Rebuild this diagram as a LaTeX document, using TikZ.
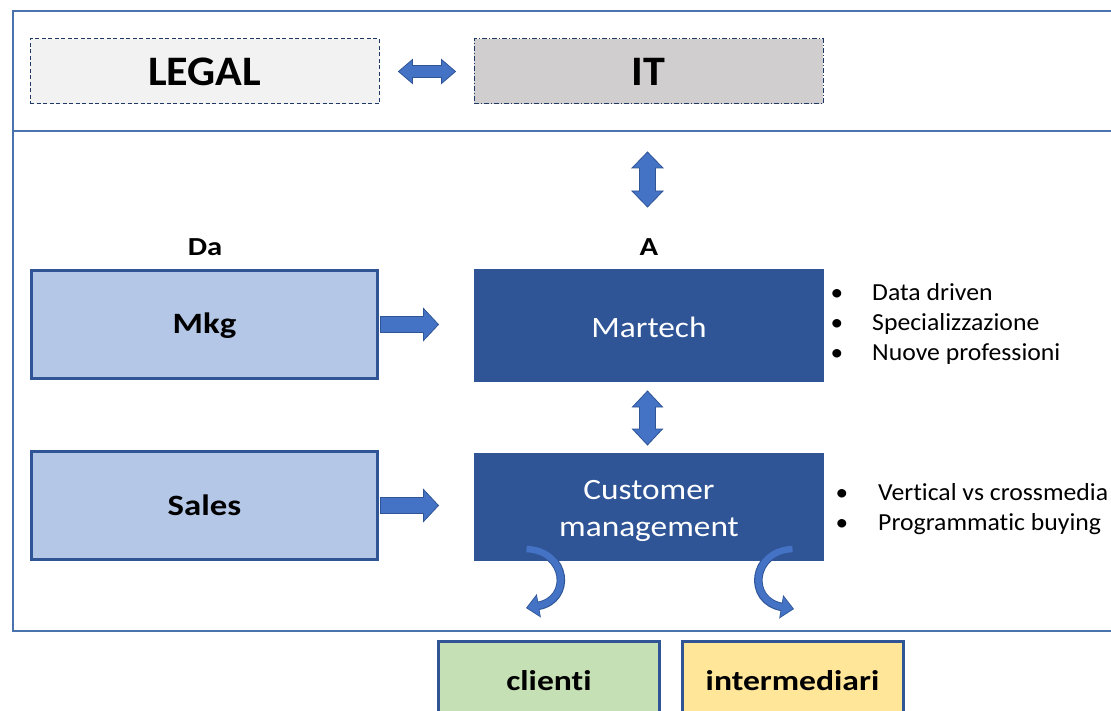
\documentclass[tikz,border=0pt]{standalone}
\usepackage{fontspec}
\setmainfont{Carlito}[FakeStretch=1.05, Ligatures=NoCommon]
\newfontfamily\widebold{Carlito}[FakeStretch=1.18, Ligatures=NoCommon]
\newfontfamily\widereg{Carlito}[FakeStretch=1.13, Ligatures=NoCommon]
\usetikzlibrary{arrows.meta,calc}
\definecolor{frameblue}{HTML}{4A73AE}
\definecolor{darkblue}{HTML}{2F5597}
\definecolor{lightblue}{HTML}{B4C7E7}
\definecolor{arrowblue}{HTML}{4472C4}
\definecolor{navy}{HTML}{1F3864}
\definecolor{legalfill}{HTML}{F2F2F2}
\definecolor{itfill}{HTML}{D0CECE}
\definecolor{greenfill}{HTML}{C5E0B4}
\definecolor{yellowfill}{HTML}{FFE699}
\tikzset{
  frameline/.style={draw=frameblue, line width=2.5pt},
  topbox/.style={minimum width=349pt, minimum height=65pt, inner sep=0pt, line width=1pt, draw=navy, font=\bfseries\fontsize{42}{46}\selectfont},
  lightbox/.style={draw=darkblue, line width=3pt, fill=lightblue, minimum width=346pt, minimum height=108pt, inner sep=0pt, text height=19pt, text depth=0pt, font=\widebold\bfseries\fontsize{29.5}{34}\selectfont},
  darkbox/.style={draw=darkblue, fill=darkblue, line width=1pt, minimum width=349pt, inner sep=0pt},
  darktext/.style={text=white, align=center, inner sep=0pt, font=\widereg\fontsize{29.5}{37}\selectfont},
  bottombox/.style={draw=darkblue, line width=3pt, minimum width=221pt, minimum height=80pt, inner sep=0pt, font=\widebold\bfseries\fontsize{28.5}{32}\selectfont},
  headlabel/.style={font=\widebold\bfseries\fontsize{26}{30}\selectfont, inner sep=0pt},
  bulletdot/.style={anchor=base, inner sep=0pt, font=\fontsize{24}{30}\selectfont},
  bullettext/.style={anchor=base west, inner sep=0pt, font=\fontsize{24.5}{30}\selectfont},
  barrow/.style={fill=arrowblue, draw=darkblue, line width=0.8pt, line join=miter},
  curveout/.style={draw=darkblue, line width=8.5pt, -{Triangle[length=13pt,width=23pt]}},
  curvein/.style={draw=arrowblue, line width=6.5pt, shorten >=1.3pt, -{Triangle[length=11pt,width=19.5pt]}}
}
\begin{document}
\begin{tikzpicture}[x=1pt,y=-1pt]
\clip (0,0) rectangle (1111,711);
\fill[white] (0,0) rectangle (1111,711);
% frame
\coordinate (ftl) at (13,11);
\coordinate (fbl) at (13,631);
\coordinate (fml) at (13,131);
\coordinate (ftr) at (1112,11);
\coordinate (fmr) at (1112,131);
\coordinate (fbr) at (1112,631);
\draw[frameline] (ftr) -- (ftl) -- (fbl) -- (fbr);
\draw[frameline] (fml) -- (fmr);
% top boxes
\node[topbox, dash pattern=on 4pt off 2.5pt, fill=legalfill] (legal) at (204.5,71.5) {LEGAL};
\node[topbox, dash pattern=on 5pt off 2pt on 1pt off 2pt, fill=itfill] (it) at (648.5,71.5) {IT};
% main boxes
\node[headlabel] (da) at (205,247.5) {Da};
\node[headlabel] (a) at (649,247.5) {A};
\node[lightbox] (mkg) at (204.5,324.5) {Mkg};
\node[lightbox] (sales) at (204.5,505.5) {Sales};
\node[darkbox, minimum height=112pt] (martech) at (648.5,325.5) {};
\node[darktext] (martechtext) at (649,327) {Martech};
\node[darkbox, minimum height=107pt] (cm) at (648.5,507) {};
\node[darktext] (cmtext) at (649,511) {Customer\\management};
\node[bottombox, fill=greenfill] (clienti) at (549,681) {clienti};
\node[bottombox, fill=yellowfill] (interm) at (792.5,681) {intermediari};
% bullets
\foreach \t/\yy [count=\i] in {Data driven/301, Specializzazione/330.5, Nuove professioni/360}{
  \node[bulletdot] (bd\i) at (837,\yy) {•};
  \node[bullettext] (bt\i) at (872,\yy) {\t};
}
\foreach \t/\yy [count=\i] in {Vertical vs crossmedia/500, Programmatic buying/530}{
  \node[bulletdot] (cd\i) at (842,\yy) {•};
  \node[bullettext] (ct\i) at (878,\yy) {\t};
}
% horizontal double arrow legal <-> it
\draw[barrow] (legal.east) ++(19,0) -- ++(14,-12) -- ++(0,6) -- ++(29,0) -- ++(0,-6) -- ++(14,12) -- ++(-14,12) -- ++(0,-6) -- ++(-29,0) -- ++(0,6) -- cycle;
% vertical double arrow it <-> martech
\draw[barrow] (martech.north) ++(-1,-117) -- ++(15.5,16) -- ++(-7.5,0) -- ++(0,23) -- ++(7.5,0) -- ++(-15.5,16) -- ++(-15.5,-16) -- ++(7.5,0) -- ++(0,-23) -- ++(-7.5,0) -- cycle;
% vertical double arrow martech <-> cm
\draw[barrow] (martech.south) ++(-1,9) -- ++(15,16) -- ++(-7,0) -- ++(0,22) -- ++(7,0) -- ++(-15,16) -- ++(-15,-16) -- ++(7,0) -- ++(0,-22) -- ++(-7,0) -- cycle;
% right arrows
\draw[barrow] (mkg.east) ++(1.5,-8) -- ++(43,0) -- ++(0,-8) -- ++(15,16) -- ++(-15,16) -- ++(0,-8) -- ++(-43,0) -- cycle;
\draw[barrow] (sales.east) ++(1.5,-8) -- ++(43,0) -- ++(0,-8) -- ++(15,16) -- ++(-15,16) -- ++(0,-8) -- ++(-43,0) -- cycle;
% curved arrows
\coordinate (cls) at ($(cm.south west)+(53,-12)$);
\coordinate (cle) at (526,608);
\coordinate (crs) at ($(cm.south east)+(-31,-12)$);
\coordinate (cre) at (794,609);
\draw[curveout] (cls) .. controls (568,551) and (572,600) .. (cle);
\draw[curvein] (cls) .. controls (568,551) and (572,600) .. (cle);
\draw[curveout] (crs) .. controls (751,551) and (747,601) .. (cre);
\draw[curvein] (crs) .. controls (751,551) and (747,601) .. (cre);
\end{tikzpicture}
\end{document}
